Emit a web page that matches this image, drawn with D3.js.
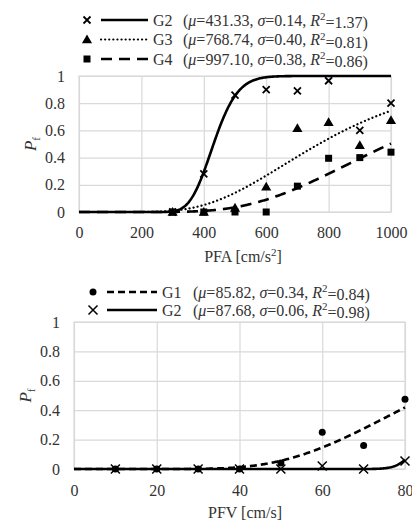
<!DOCTYPE html>
<html><head><meta charset="utf-8">
<script src="https://cdn.jsdelivr.net/npm/d3@7"></script>
<style>body{margin:0;background:#fff}svg{display:block}svg text{font-family:"Liberation Serif","Times New Roman",Times,serif !important}</style>
</head><body><svg id="c" width="412" height="522" font-family="Liberation Serif, Times New Roman, serif"></svg>
<script>
// ---------- data ----------
const pfaLevels = [300, 400, 500, 600, 700, 800, 900, 1000];
const pfaG2 = [0, 0.28, 0.86, 0.90, 0.89, 0.965, 0.60, 0.80];
const pfaG3 = [0, 0, 0.03, 0.185, 0.615, 0.66, 0.49, 0.675];
const pfaG4 = [0, 0, 0, 0, 0.19, 0.395, 0.40, 0.44];
const pfaNames = ["G2", "G3", "G4"];
const pfaMu = [431.33, 768.74, 997.10];
const pfaSigma = [0.14, 0.40, 0.38];
const pfaR2 = ["1.37", "0.81", "0.86"];
const pfaTicks = [0, 200, 400, 600, 800, 1000];

const pfvLevels = [10, 20, 30, 40, 50, 60, 70, 80];
const pfvG1 = [0, 0, 0, 0, 0.04, 0.25, 0.16, 0.475];
const pfvG2 = [0, 0, 0, 0, 0, 0.02, 0, 0.055];
const pfvNames = ["G1", "G2"];
const pfvMu = [85.82, 87.68];
const pfvSigma = [0.34, 0.06];
const pfvR2 = ["0.84", "0.98"];
const pfvTicks = [0, 20, 40, 60, 80];

const pfTicks = [0, 0.2, 0.4, 0.6, 0.8, 1];

// ---------- helpers ----------
const FONT = "Liberation Serif, Times New Roman, serif";
function erf(x) {
  const s = Math.sign(x); x = Math.abs(x);
  const t = 1 / (1 + 0.3275911 * x);
  const y = 1 - (((((1.061405429 * t - 1.453152027) * t) + 1.421413741) * t - 0.284496736) * t + 0.254829592) * t * Math.exp(-x * x);
  return s * y;
}
function lognCdf(x, mu, sigma) {
  if (x <= 0) return 0;
  const z = Math.log(x / mu) / sigma;
  return 0.5 * (1 + erf(z / Math.SQRT2));
}

const svg = d3.select("#c");
const GRID = "#d9d9d9";
const TXT = "#333";

function marker(g, type, x, y, size) {
  if (type === "cross" || type === "crossThin") {
    const s = size / 2;
    g.append("path").attr("d", `M${x - s},${y - s}L${x + s},${y + s}M${x - s},${y + s}L${x + s},${y - s}`)
      .attr("stroke", "#000").attr("stroke-width", type === "cross" ? 1.8 : 1.5).attr("fill", "none");
  } else if (type === "triangle") {
    g.append("path").attr("d", d3.symbol(d3.symbolTriangle, size * size * 0.55)()).attr("transform", `translate(${x},${y + 0.8})`).attr("fill", "#000");
  } else if (type === "square") {
    g.append("rect").attr("x", x - size / 2).attr("y", y - size / 2).attr("width", size).attr("height", size).attr("fill", "#000");
  } else if (type === "circle") {
    g.append("circle").attr("cx", x).attr("cy", y).attr("r", size / 2).attr("fill", "#000");
  }
}

function panel(cfg) {
  const x = d3.scaleLinear().domain(cfg.xDomain).range([cfg.left, cfg.right]);
  const y = d3.scaleLinear().domain([0, 1]).range([cfg.bottom, cfg.top]);
  const g = svg.append("g").attr("font-family", FONT);
  const w = cfg.right - cfg.left, h = cfg.bottom - cfg.top;

  const gx = g.append("g").attr("transform", `translate(0,${cfg.bottom})`)
    .call(d3.axisBottom(x).tickValues(cfg.xTicks).tickSize(-h).tickPadding(12).tickFormat(d => d));
  gx.attr("font-family", FONT).attr("font-size", 16);
  gx.select(".domain").remove();
  gx.selectAll("line").attr("stroke", GRID).attr("stroke-width", 1.2);
  gx.selectAll("text").attr("font-size", 16).attr("fill", TXT).attr("font-family", FONT).attr("dy", "0.35em").attr("y", cfg.xLabelDy);

  const gy = g.append("g").attr("transform", `translate(${cfg.left},0)`)
    .call(d3.axisLeft(y).tickValues(pfTicks).tickSize(-w).tickPadding(cfg.yPad).tickFormat(d => d));
  gy.attr("font-family", FONT).attr("font-size", 16);
  gy.select(".domain").remove();
  gy.selectAll("line").attr("stroke", GRID).attr("stroke-width", 1.2);
  gy.selectAll("text").attr("font-size", 16).attr("fill", TXT).attr("font-family", FONT);

  g.append("rect").attr("x", cfg.left).attr("y", cfg.top).attr("width", w).attr("height", h)
    .attr("fill", "none").attr("stroke", GRID).attr("stroke-width", 1.2);

  const xt = g.append("text").attr("x", cfg.xTitleX).attr("y", cfg.xTitleY).attr("text-anchor", "middle")
    .attr("font-size", 16).attr("fill", TXT).attr("dy", "0.35em").attr("font-family", FONT);
  xt.append("tspan").text(cfg.xTitle[0]);
  if (cfg.xTitle[1]) {
    xt.append("tspan").attr("font-size", 11).attr("dy", "-0.55em").text(cfg.xTitle[1]);
    xt.append("tspan").attr("dy", "0.38em").text(cfg.xTitle[2]);
  }
  const yt = g.append("text").attr("transform", `translate(${cfg.yTitleX},${(cfg.top + cfg.bottom) / 2}) rotate(-90)`)
    .attr("text-anchor", "middle").attr("font-size", 17).attr("fill", TXT).attr("dy", "0.35em").attr("font-family", FONT);
  yt.append("tspan").attr("font-style", "italic").text("P");
  yt.append("tspan").attr("font-size", 11).attr("dy", "0.35em").text("f");

  const cid = "clip" + cfg.id;
  svg.append("clipPath").attr("id", cid).append("rect").attr("x", cfg.left).attr("y", cfg.top - 4).attr("width", w + 2).attr("height", h + 6);

  const line = d3.line().x(d => x(d[0])).y(d => y(d[1]));
  const xs = d3.range(0, cfg.xDomain[1] + 0.001, cfg.xDomain[1] / 400);
  cfg.series.slice().reverse().forEach(s => {
    const pts = xs.map(v => [v, lognCdf(v, s.mu, s.sigma)]);
    g.append("path").attr("clip-path", `url(#${cid})`).attr("d", line(pts))
      .attr("fill", "none").attr("stroke", "#000").attr("stroke-width", s.lw)
      .attr("stroke-dasharray", s.dash).attr("stroke-linecap", s.cap || "butt");
  });
  cfg.series.forEach(s => {
    s.values.forEach((v, i) => marker(g, s.marker, x(cfg.levels[i]), y(v), s.msize));
  });

  cfg.series.forEach((s, i) => {
    const ly = cfg.legY[i];
    marker(g, s.marker, cfg.legMarkerX, ly, s.msize);
    g.append("line").attr("x1", cfg.legLine[0]).attr("x2", cfg.legLine[1]).attr("y1", ly).attr("y2", ly)
      .attr("stroke", "#000").attr("stroke-width", s.lw).attr("stroke-dasharray", s.dash).attr("stroke-linecap", s.cap || "butt");
    g.append("text").attr("x", cfg.legNameX).attr("y", ly).attr("dy", "0.35em").attr("font-size", 16).attr("fill", TXT).attr("font-family", FONT).text(s.name);
    const t = g.append("text").attr("x", cfg.legParX).attr("y", ly).attr("dy", "0.35em").attr("font-size", 16).attr("fill", TXT).attr("font-family", FONT);
    t.append("tspan").text("(");
    t.append("tspan").attr("font-style", "italic").text("μ");
    t.append("tspan").text("=" + s.mu.toFixed(2) + ", ");
    t.append("tspan").attr("font-style", "italic").text("σ");
    t.append("tspan").text("=" + s.sigma.toFixed(2) + ", ");
    t.append("tspan").attr("font-style", "italic").text("R");
    t.append("tspan").attr("font-size", 11).attr("dy", "-0.5em").text("2");
    t.append("tspan").attr("dy", "0.5em").text("=" + s.r2 + ")");
  });
}

const styles1 = [
  { marker: "cross", msize: 7, lw: 2.6, dash: null },
  { marker: "triangle", msize: 9, lw: 2.2, dash: "0.1,4", cap: "round" },
  { marker: "square", msize: 7, lw: 2.6, dash: "11,7" }
];
const vals1 = [pfaG2, pfaG3, pfaG4];
panel({
  id: 1, xDomain: [0, 1000], left: 79, right: 391, top: 76, bottom: 212,
  xTicks: pfaTicks, levels: pfaLevels, xLabelDy: 20, yPad: 14,
  xTitle: ["PFA [cm/s", "2", "]"], xTitleX: 243, xTitleY: 256, yTitleX: 30,
  legY: [20, 39.5, 59], legMarkerX: 87, legLine: [101, 148], legNameX: 153, legParX: 183,
  series: pfaNames.map((n, i) => Object.assign({ name: n, mu: pfaMu[i], sigma: pfaSigma[i], r2: pfaR2[i], values: vals1[i] }, styles1[i]))
});

const styles2 = [
  { marker: "circle", msize: 7, lw: 2.6, dash: "7,4" },
  { marker: "crossThin", msize: 9, lw: 2.6, dash: null }
];
const vals2 = [pfvG1, pfvG2];
panel({
  id: 2, xDomain: [0, 80], left: 74, right: 405, top: 322, bottom: 469,
  xTicks: pfvTicks, levels: pfvLevels, xLabelDy: 21, yPad: 14,
  xTitle: ["PFV [cm/s]"], xTitleX: 245, xTitleY: 512, yTitleX: 25,
  legY: [292, 310], legMarkerX: 93, legLine: [107, 157], legNameX: 162, legParX: 193,
  series: pfvNames.map((n, i) => Object.assign({ name: n, mu: pfvMu[i], sigma: pfvSigma[i], r2: pfvR2[i], values: vals2[i] }, styles2[i]))
});
</script></body></html>
